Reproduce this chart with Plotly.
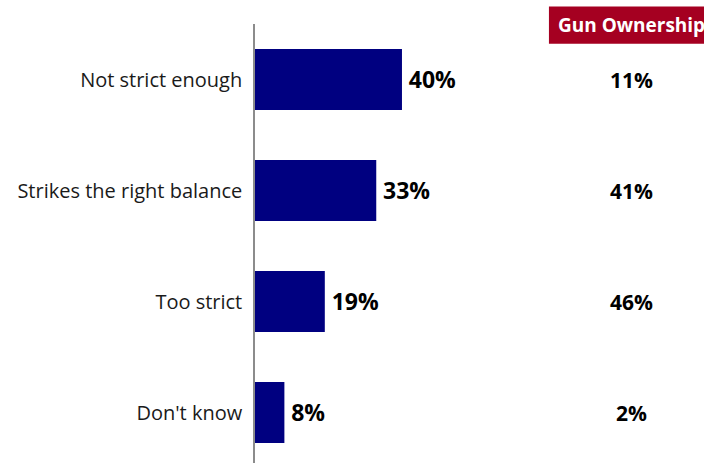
import plotly.graph_objects as go

# Survey responses: opinion of current gun laws
categories = ["Not strict enough", "Strikes the right balance", "Too strict", "Don't know"]
overall_pct = [40, 33, 19, 8]
gun_owner_pct = [11, 41, 46, 2]
owner_header = "Gun Ownership"

FONT = "'Open Sans', sans-serif"
BAR_COLOR = "#000080"
HEADER_COLOR = "#A50021"

fig = go.Figure(
    go.Bar(
        y=categories,
        x=overall_pct,
        orientation="h",
        marker=dict(color=BAR_COLOR, line=dict(width=0)),
        text=[f"<b>\u2009{v}%</b>" for v in overall_pct],
        textposition="outside",
        textfont=dict(size=23, color="#000000", family=FONT),
        cliponaxis=False,
        hoverinfo="skip",
    )
)

# Gun-owner column on the right
for cat, v in zip(categories, gun_owner_pct):
    fig.add_annotation(
        x=102.6, y=cat, xref="x", yref="y",
        text=f"<b>{v}%</b>", showarrow=False,
        font=dict(size=21, color="#000000", family=FONT),
        xanchor="center", yanchor="middle",
    )

# Column header box
fig.add_shape(
    type="rect", xref="x", yref="paper",
    x0=80.0, x1=125.0, y0=0.955, y1=1.04,
    fillcolor=HEADER_COLOR, line=dict(width=0), layer="above",
)
fig.add_annotation(
    x=81.8, y=0.9975, xref="x", yref="paper",
    text=f"<b>{owner_header}</b>", showarrow=False,
    font=dict(size=19, color="#FFFFFF", family=FONT),
    xanchor="left", yanchor="middle",
)

fig.update_layout(
    width=704, height=463,
    margin=dict(l=255, r=0, t=24, b=0),
    plot_bgcolor="white", paper_bgcolor="white",
    bargap=0.45,
    showlegend=False,
    font=dict(family=FONT, color="#1a1a1a"),
)
fig.update_xaxes(
    range=[0, 122.2], visible=False, showgrid=False, zeroline=False,
)
fig.update_yaxes(
    range=[3.455, -0.5],
    showline=True, linecolor="#8c8c8c", linewidth=1.5,
    showgrid=False, zeroline=False, ticks="",
    ticklabelstandoff=7,
    tickfont=dict(size=20, color="#1a1a1a", family=FONT),
)

fig.write_html("out.html")
